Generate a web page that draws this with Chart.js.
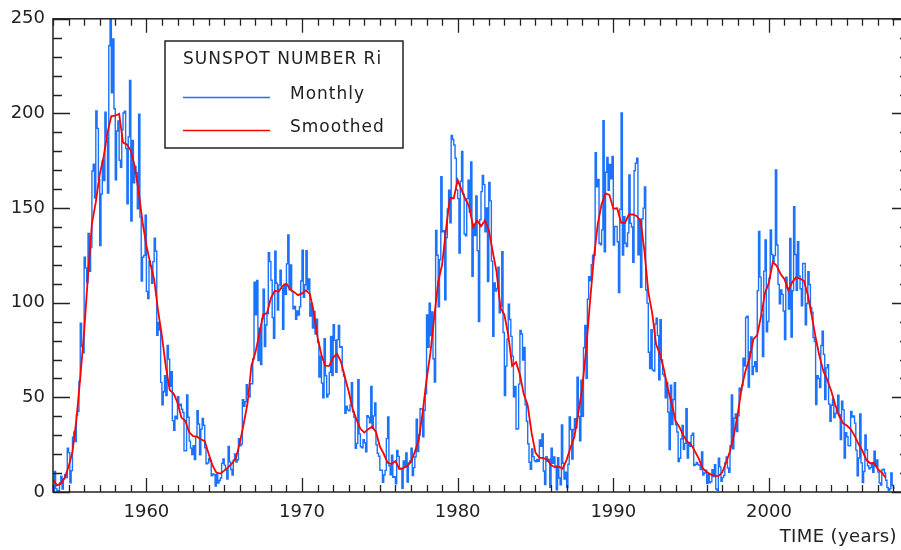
<!DOCTYPE html>
<html>
<head>
<meta charset="utf-8">
<script src="https://cdn.jsdelivr.net/npm/chart.js@4"></script>
<style>
html,body{margin:0;padding:0;overflow:hidden;background:#fff;width:901px;height:550px}
canvas{position:absolute;left:0;top:0}
</style>
</head>
<body>
<canvas id="c" width="909" height="550"></canvas>
<script>
// ---- data ----
const monthlyStartYear = 1954;           // first month: Jan 1954
const monthly = [
/*1954*/ 0.2,0.5,10.9,1.8,0.8,0.2,4.8,8.4,1.5,7.0,9.2,7.6,
/*1955*/ 23.1,20.8,4.9,11.3,28.9,31.7,26.7,40.7,42.7,58.5,89.2,76.9,
/*1956*/ 73.6,124.0,118.4,110.7,136.6,116.6,129.1,169.6,173.2,155.3,201.3,192.1,
/*1957*/ 165.0,130.2,157.4,175.2,164.6,200.7,187.2,158.0,235.8,253.8,210.9,239.4,
/*1958*/ 202.5,164.9,190.7,196.0,175.3,171.5,191.4,200.2,201.2,181.5,152.3,187.6,
/*1959*/ 217.4,143.1,185.7,163.3,172.0,168.7,149.6,199.6,145.2,111.4,124.0,125.0,
/*1960*/ 146.3,106.0,102.2,122.0,119.6,110.2,121.7,134.1,127.2,82.8,89.6,85.6,
/*1961*/ 57.9,46.1,53.0,61.4,51.0,77.4,70.2,55.9,63.6,37.7,32.6,40.0,
/*1962*/ 38.7,50.3,45.6,46.4,43.7,42.0,21.8,21.8,51.3,39.5,26.9,23.2,
/*1963*/ 19.8,24.4,17.1,29.3,43.0,35.9,19.6,33.2,38.8,35.3,23.4,14.9,
/*1964*/ 15.3,17.7,16.5,8.6,9.5,9.1,3.1,9.3,4.7,6.1,7.4,15.1,
/*1965*/ 17.5,14.2,11.7,6.8,24.1,15.9,11.9,8.9,16.8,20.1,15.8,17.0,
/*1966*/ 28.2,24.4,25.3,48.7,45.3,47.7,56.7,51.2,50.2,57.2,57.2,70.4,
/*1967*/ 110.9,93.6,111.8,69.5,86.5,67.3,91.5,107.2,76.8,88.2,94.3,126.4,
/*1968*/ 121.8,111.9,92.2,81.2,127.2,110.3,96.1,109.3,117.2,107.7,86.0,109.8,
/*1969*/ 104.4,120.5,135.8,106.8,120.0,106.0,96.8,98.0,91.3,95.7,93.5,97.9,
/*1970*/ 111.5,127.8,102.9,109.5,127.5,106.8,112.5,93.0,99.5,86.6,95.2,83.5,
/*1971*/ 91.3,79.0,60.7,71.8,57.5,49.8,81.0,61.4,50.2,51.7,63.2,82.2,
/*1972*/ 61.5,88.4,80.1,63.2,80.5,88.0,76.5,76.8,64.0,61.3,41.6,45.3,
/*1973*/ 43.4,42.9,46.0,57.7,42.4,39.5,23.1,25.6,59.3,30.7,23.9,23.3,
/*1974*/ 27.6,26.0,21.3,40.3,39.5,36.6,55.8,33.6,40.2,47.1,25.0,20.5,
/*1975*/ 18.9,11.5,11.5,5.1,9.0,11.4,28.2,39.7,13.9,9.1,19.4,7.8,
/*1976*/ 8.1,4.3,21.9,18.8,12.4,12.2,1.9,16.4,13.5,20.6,5.2,15.3,
/*1977*/ 16.4,23.1,8.7,12.9,18.6,38.5,21.4,30.1,44.0,43.8,29.1,43.2,
/*1978*/ 51.9,93.6,76.5,99.7,82.7,95.1,70.4,58.1,138.2,125.1,97.9,122.7,
/*1979*/ 166.6,137.5,138.0,101.5,134.4,149.5,159.4,142.2,188.4,186.2,183.3,176.3,
/*1980*/ 159.6,155.0,126.2,164.1,179.9,157.3,136.3,135.4,155.0,164.7,147.9,174.4,
/*1981*/ 114.0,141.3,135.5,156.4,127.5,90.0,143.8,158.7,167.3,162.4,137.5,150.1,
/*1982*/ 111.2,163.6,153.8,122.0,82.2,110.4,106.1,107.6,118.8,94.7,98.1,127.0,
/*1983*/ 84.3,51.0,66.5,80.7,99.2,91.1,82.2,71.8,50.3,55.8,33.3,33.4,
/*1984*/ 57.0,85.4,83.5,69.7,76.4,46.1,37.4,25.5,15.7,12.0,22.8,18.7,
/*1985*/ 16.5,15.9,17.2,16.2,27.5,24.2,30.7,11.1,3.9,18.6,16.2,17.3,
/*1986*/ 2.5,23.2,15.1,18.5,13.7,1.1,18.1,7.4,3.8,35.4,15.2,6.8,
/*1987*/ 10.4,2.4,14.7,39.6,33.0,17.4,33.0,38.7,33.9,60.6,39.9,27.1,
/*1988*/ 59.0,40.0,76.2,88.0,60.1,101.8,113.8,111.6,120.1,125.1,125.1,179.2,
/*1989*/ 161.3,165.1,131.4,130.6,138.5,196.2,126.9,168.9,176.7,159.4,173.0,165.5,
/*1990*/ 177.3,130.5,140.3,140.3,132.2,105.4,149.4,200.3,125.2,145.5,131.4,129.7,
/*1991*/ 136.9,167.5,141.9,140.0,121.3,169.7,173.7,176.3,125.3,144.1,108.2,144.4,
/*1992*/ 150.0,161.1,106.7,99.8,73.8,65.2,85.7,64.5,63.9,88.7,91.8,82.6,
/*1993*/ 59.3,91.0,69.8,62.2,61.3,49.8,57.9,42.2,22.4,56.4,35.6,48.9,
/*1994*/ 57.8,35.5,31.7,16.1,17.8,28.0,35.1,22.5,25.7,44.0,18.0,26.2,
/*1995*/ 24.2,29.9,31.1,14.0,14.5,15.6,14.5,14.3,11.8,21.1,9.0,10.0,
/*1996*/ 11.5,4.4,9.2,4.8,5.5,11.8,8.2,14.4,1.6,0.9,17.9,13.3,
/*1997*/ 5.7,7.6,8.7,15.5,18.5,12.7,10.4,24.4,51.3,22.8,39.0,41.2,
/*1998*/ 31.9,40.3,54.8,53.4,56.3,70.7,66.6,92.2,92.9,55.5,74.0,81.9,
/*1999*/ 62.0,66.3,68.8,63.7,106.4,137.7,113.5,93.7,71.5,116.7,133.2,84.6,
/*2000*/ 90.1,112.9,138.5,125.5,121.6,124.9,170.1,130.5,109.7,99.4,106.8,104.4,
/*2001*/ 95.6,80.6,113.5,107.7,96.6,134.0,81.8,106.4,150.7,125.5,106.5,132.2,
/*2002*/ 114.1,107.4,98.4,120.7,120.8,88.3,99.6,116.4,109.6,97.5,95.0,81.6,
/*2003*/ 79.5,46.2,61.5,60.0,55.2,77.4,85.0,72.7,48.8,65.6,67.2,46.5,
/*2004*/ 37.3,45.8,49.1,39.3,41.5,43.2,51.1,40.9,27.7,48.0,43.5,17.9,
/*2005*/ 31.3,29.2,24.5,24.4,42.6,39.6,40.2,36.4,22.1,8.5,18.0,41.2,
/*2006*/ 15.4,5.0,10.8,30.2,22.3,13.9,12.2,12.9,14.4,10.4,21.5,13.6,
/*2007*/ 16.9,10.6,4.8,3.7,11.7,12.0,10.0,6.2,2.4,0.9,1.7,10.1,
/*2008*/ 3.4,2.1
];

const smoothedStartYear = 1954;          // one value per quarter-year
const smoothed = [
/*1954*/ 6.5,3.5,4.4,7.5,
/*1955*/ 13.3,21.2,38.0,60.2,
/*1956*/ 84.6,114.7,141.7,153.1,
/*1957*/ 167.8,176.9,189.9,198.6,
/*1958*/ 198.8,199.8,184.6,183.6,
/*1959*/ 180.4,172.2,158.8,142.8,
/*1960*/ 130.1,120.8,112.3,95.8,
/*1961*/ 82.3,66.2,53.9,52.0,
/*1962*/ 47.2,39.3,37.6,31.5,
/*1963*/ 29.5,29.2,27.9,26.9,
/*1964*/ 20.2,14.0,10.2,9.7,
/*1965*/ 11.3,13.0,15.1,17.9,
/*1966*/ 25.8,35.9,46.9,66.7,
/*1967*/ 73.5,83.3,93.7,94.5,
/*1968*/ 102.4,106.3,105.9,108.8,
/*1969*/ 110.0,106.9,105.6,104.0,
/*1970*/ 104.9,106.5,104.7,95.4,
/*1971*/ 81.7,72.3,66.7,66.6,
/*1972*/ 71.0,73.0,68.9,60.8,
/*1973*/ 53.1,44.0,38.2,33.4,
/*1974*/ 31.4,33.2,34.5,31.7,
/*1975*/ 24.1,20.2,15.5,14.8,
/*1976*/ 16.3,12.2,12.6,13.7,
/*1977*/ 15.9,21.2,27.5,42.0,
/*1978*/ 59.3,73.5,92.7,111.0,
/*1979*/ 120.0,138.6,155.3,155.2,
/*1980*/ 164.8,159.6,154.7,150.5,
/*1981*/ 139.9,143.5,140.4,143.5,
/*1982*/ 138.6,127.1,116.3,97.4,
/*1983*/ 93.8,83.1,66.6,68.6,
/*1984*/ 62.1,51.6,45.9,31.2,
/*1985*/ 20.8,18.1,17.9,17.2,
/*1986*/ 14.3,13.0,13.4,12.3,
/*1987*/ 17.0,23.4,29.2,41.5,
/*1988*/ 54.9,74.9,100.0,123.6,
/*1989*/ 141.5,152.1,157.8,157.0,
/*1990*/ 149.7,149.9,142.3,142.1,
/*1991*/ 146.6,146.6,145.8,143.4,
/*1992*/ 127.4,105.6,94.5,78.0,
/*1993*/ 72.6,64.9,54.7,46.8,
/*1994*/ 37.5,34.3,29.9,26.6,
/*1995*/ 25.1,21.5,17.5,12.5,
/*1996*/ 10.7,9.3,8.6,8.4,
/*1997*/ 10.4,15.6,21.5,30.2,
/*1998*/ 41.4,55.2,64.2,70.1,
/*1999*/ 80.7,82.9,93.2,105.2,
/*2000*/ 110.6,121.5,119.5,115.2,
/*2001*/ 112.4,106.5,110.9,113.4,
/*2002*/ 112.7,111.6,104.1,93.1,
/*2003*/ 81.6,71.7,63.8,59.2,
/*2004*/ 53.5,46.3,40.4,36.5,
/*2005*/ 35.1,33.3,29.8,25.4,
/*2006*/ 22.0,17.1,15.2,15.3,
/*2007*/ 12.1,10.3,7.6
];

const xTickLabels = [1960, 1970, 1980, 1990, 2000];
const yTickLabels = [0, 50, 100, 150, 200, 250];
const xRange = [1954, 2009];
const yRange = [0, 250];
const legendTitle = 'SUNSPOT NUMBER Ri';
const seriesNames = ['Monthly', 'Smoothed'];
const seriesColors = ['#1a72ff', '#ff0000'];
const xAxisTitle = 'TIME (years)';

// ---- build ----
const monthlyPts = monthly.map((v, i) => ({ x: monthlyStartYear + i / 12, y: v }));
const smoothedPts = smoothed.map((v, i) => ({ x: smoothedStartYear + i / 4, y: v }));

const FONT = '"DejaVu Sans", sans-serif';
const INK = '#222';

const decor = {
  id: 'decor',
  afterDatasetsDraw(chart) {
    const { ctx, chartArea: a, scales: { x, y } } = chart;
    ctx.save();
    // frame
    ctx.strokeStyle = INK;
    ctx.lineWidth = 1.5;
    ctx.strokeRect(a.left, a.top, a.right - a.left, a.bottom - a.top);
    // inward ticks
    ctx.beginPath();
    for (let yr = Math.ceil(x.min); yr <= x.max; yr++) {
      const px = Math.round(x.getPixelForValue(yr)) + 0.5;
      const len = yr % 10 === 0 ? 14 : 7;
      ctx.moveTo(px, a.bottom); ctx.lineTo(px, a.bottom - len);
      ctx.moveTo(px, a.top); ctx.lineTo(px, a.top + len);
    }
    for (let v = y.min; v <= y.max; v += 10) {
      const py = Math.round(y.getPixelForValue(v)) + 0.5;
      const len = v % 50 === 0 ? 17 : 9;
      ctx.moveTo(a.left, py); ctx.lineTo(a.left + len, py);
      ctx.moveTo(a.right, py); ctx.lineTo(a.right - len, py);
    }
    ctx.lineWidth = 1.3;
    ctx.stroke();

    // axis title
    ctx.fillStyle = INK;
    ctx.font = '18px ' + FONT;
    try { ctx.letterSpacing = '0.4px'; } catch (e) {}
    ctx.textAlign = 'right';
    ctx.textBaseline = 'middle';
    ctx.fillText(xAxisTitle, 897, 537);

    // legend box
    const bx = 165, by = 41, bw = 238, bh = 107;
    ctx.fillStyle = '#fff';
    ctx.fillRect(bx, by, bw, bh);
    ctx.strokeStyle = INK;
    ctx.lineWidth = 1.5;
    ctx.strokeRect(bx, by, bw, bh);
    ctx.fillStyle = INK;
    ctx.font = '17px ' + FONT;
    try { ctx.letterSpacing = '1px'; } catch (e) {}
    ctx.textAlign = 'left';
    ctx.fillText(legendTitle, 183, 60);
    const rows = [97.5, 130.5];
    seriesNames.forEach((name, i) => {
      ctx.strokeStyle = seriesColors[i];
      ctx.lineWidth = 1.5;
      ctx.beginPath();
      ctx.moveTo(183, rows[i]); ctx.lineTo(270, rows[i]);
      ctx.stroke();
      ctx.fillText(name, 290, rows[i] - 2.5);
    });
    ctx.restore();
  }
};

new Chart(document.getElementById('c'), {
  type: 'line',
  data: {
    datasets: [
      {
        label: seriesNames[0], data: monthlyPts, order: 2,
        borderColor: seriesColors[0], borderWidth: 1.4, pointRadius: 0,
        stepped: 'after', fill: false
      },
      {
        label: seriesNames[1], data: smoothedPts, order: 1,
        borderColor: seriesColors[1], borderWidth: 1.8, pointRadius: 0,
        tension: 0, fill: false
      }
    ]
  },
  options: {
    responsive: false,
    animation: false,
    devicePixelRatio: 1,
    layout: { padding: { top: 12, right: 0, bottom: 0, left: 0 } },
    plugins: { legend: { display: false }, tooltip: { enabled: false } },
    scales: {
      x: {
        type: 'linear', position: 'bottom', min: xRange[0], max: xRange[1],
        grid: { display: false, drawTicks: false, tickLength: 0 },
        border: { display: false },
        ticks: { font: { family: FONT, size: 18 }, color: INK, padding: 10, maxRotation: 0,
                 callback: v => String(v) },
        afterBuildTicks: s => { s.ticks = xTickLabels.map(v => ({ value: v })); },
        afterFit: s => { s.height = 58; }
      },
      y: {
        type: 'linear', position: 'left', min: yRange[0], max: yRange[1],
        grid: { display: false, drawTicks: false, tickLength: 0 },
        border: { display: false },
        ticks: { font: { family: FONT, size: 18 }, color: INK, padding: 8,
                 callback: v => String(v) },
        afterBuildTicks: s => { s.ticks = yTickLabels.map(v => ({ value: v })); },
        afterFit: s => { s.width = 53; }
      }
    }
  },
  plugins: [decor]
});
</script>
</body>
</html>
